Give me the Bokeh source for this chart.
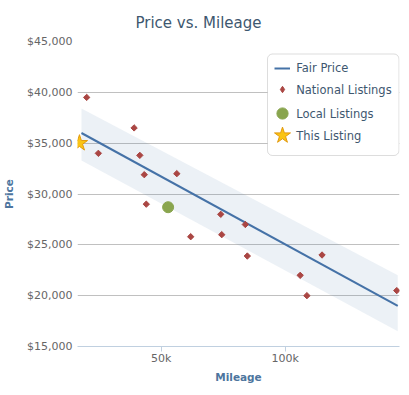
import math
from bokeh.plotting import figure
from bokeh.models import (Range1d, FixedTicker, NumeralTickFormatter, Legend, LegendItem,
                          BoxAnnotation, Label)
from bokeh.embed import file_html
from bokeh.resources import INLINE

# ---- data ----
national_mileage = [20000, 39100, 24700, 41400, 43200, 56300, 44000, 74000,
                    83900, 61900, 74400, 84700, 114800, 106000, 108700, 144900]
national_price = [39500, 36500, 34000, 33800, 31900, 32000, 29000, 28000,
                  27000, 25800, 26000, 23900, 24000, 22000, 20000, 20500]
local_mileage = [52800]
local_price = [28700]
this_mileage = [17100]
this_price = [35000]
fair_mileage = [17900, 145300]
fair_price = [36000, 19000]
band_lower = [33300, 16500]
band_upper = [38400, 22000]

y_ticks = [15000, 20000, 25000, 30000, 35000, 40000, 45000]
x_ticks = [50000, 100000]
x_tick_labels = {50000: "50k", 100000: "100k"}
legend_labels = ["Fair Price", "National Listings", "Local Listings", "This Listing"]

FONT = "DejaVu Sans"
BLUE = "#4572A7"
RED = "#AA4643"
GREEN = "#89A54E"

p = figure(width=401, height=387, output_backend="svg", toolbar_location=None,
           x_range=Range1d(16300, 146000), y_range=Range1d(15000, 45000),
           min_border_left=77, min_border_right=2, min_border_top=41, min_border_bottom=41)
p.outline_line_color = None
p.background_fill_color = "white"
p.border_fill_color = "white"

# title
p.title.text = "Price vs. Mileage"
p.title.text_font = FONT
p.title.text_font_size = "15px"
p.title.text_font_style = "normal"
p.title.text_color = "#3E576F"
p.title.align = "left"
p.title.offset = 58
p.title.standoff = 20

# grids
p.xgrid.visible = False
p.ygrid.ticker = FixedTicker(ticks=y_ticks)
p.ygrid.grid_line_color = "#C0C0C0"
p.ygrid.grid_line_width = 1

# y axis
ya = p.yaxis[0]
ya.ticker = FixedTicker(ticks=y_ticks)
ya.formatter = NumeralTickFormatter(format="$0,0")
ya.axis_line_color = None
ya.major_tick_line_color = None
ya.minor_tick_line_color = None
ya.major_tick_out = 0
ya.major_tick_in = 0
ya.major_label_standoff = 5
ya.major_label_text_font = FONT
ya.major_label_text_font_size = "11px"
ya.major_label_text_color = "#666666"
ya.axis_label = "Price"
ya.axis_label_text_font = FONT
ya.axis_label_text_font_size = "10.5px"
ya.axis_label_text_font_style = "bold"
ya.axis_label_text_color = "#4D759E"
ya.axis_label_standoff = 9

# x axis
xa = p.xaxis[0]
xa.ticker = FixedTicker(ticks=x_ticks)
xa.major_label_overrides = x_tick_labels
xa.axis_line_color = "#C0D0E0"
xa.major_tick_line_color = "#C0D0E0"
xa.minor_tick_line_color = None
xa.major_tick_out = 5
xa.major_tick_in = 0
xa.major_label_standoff = 0
xa.major_label_text_font = FONT
xa.major_label_text_font_size = "11px"
xa.major_label_text_color = "#666666"
xa.axis_label = "Mileage"
xa.axis_label_text_font = FONT
xa.axis_label_text_font_size = "10.5px"
xa.axis_label_text_font_style = "bold"
xa.axis_label_text_color = "#4D759E"
xa.axis_label_standoff = 3

# data glyphs
p.varea(x=fair_mileage, y1=band_lower, y2=band_upper, fill_color=BLUE, fill_alpha=0.1)
r_line = p.line(fair_mileage, fair_price, line_color=BLUE, line_width=2)
r_nat = p.scatter(national_mileage, national_price, marker="square", angle=math.pi / 4,
                  size=4.5, fill_color=RED, line_color=RED)
r_loc = p.scatter(local_mileage, local_price, marker="circle", size=11,
                  fill_color=GREEN, line_color=GREEN)
r_this = p.scatter(this_mileage, this_price, marker="star", size=17,
                   fill_color="#FAC415", line_color="#E39A0E", line_width=1)
# legend key for the diamond symbol (legend does not rotate markers); size 0 in the plot
r_nat_key = p.scatter(national_mileage, national_price, marker="diamond", size=0,
                      fill_color=RED, line_color=RED)

# legend box
box = BoxAnnotation(left=190, right=321.5, top=292.5, bottom=191,
                    left_units="screen", right_units="screen",
                    top_units="screen", bottom_units="screen",
                    fill_color="white", fill_alpha=1.0,
                    line_color="#909090", line_width=1, border_radius=5)
p.add_layout(box)

glyph_cx = 204.5
text_x = 218.7
row_y = [278.3, 256.7, 232.7, 211.0]
specs = [(r_line, 16, 20), (r_nat_key, 16, 16), (r_loc, 28, 28), (r_this, 42, 42)]
for (rend, gw, gh), cy, lab in zip(specs, row_y, legend_labels):
    lg = Legend(items=[LegendItem(label="", renderers=[rend])],
                location=(glyph_cx - gw / 2, cy - gh / 2),
                glyph_width=gw, glyph_height=gh, label_height=gh, label_width=0,
                label_standoff=0, label_text_font_size="1px",
                padding=0, margin=0, spacing=0,
                border_line_alpha=0, background_fill_alpha=0)
    p.add_layout(lg)
    p.add_layout(Label(x=text_x, y=cy, x_units="screen", y_units="screen", text=lab,
                       text_baseline="middle", text_align="left", text_font=FONT,
                       text_font_size="11.5px", text_color="#3E576F"))

open("out.html", "w").write(file_html(p, INLINE))
